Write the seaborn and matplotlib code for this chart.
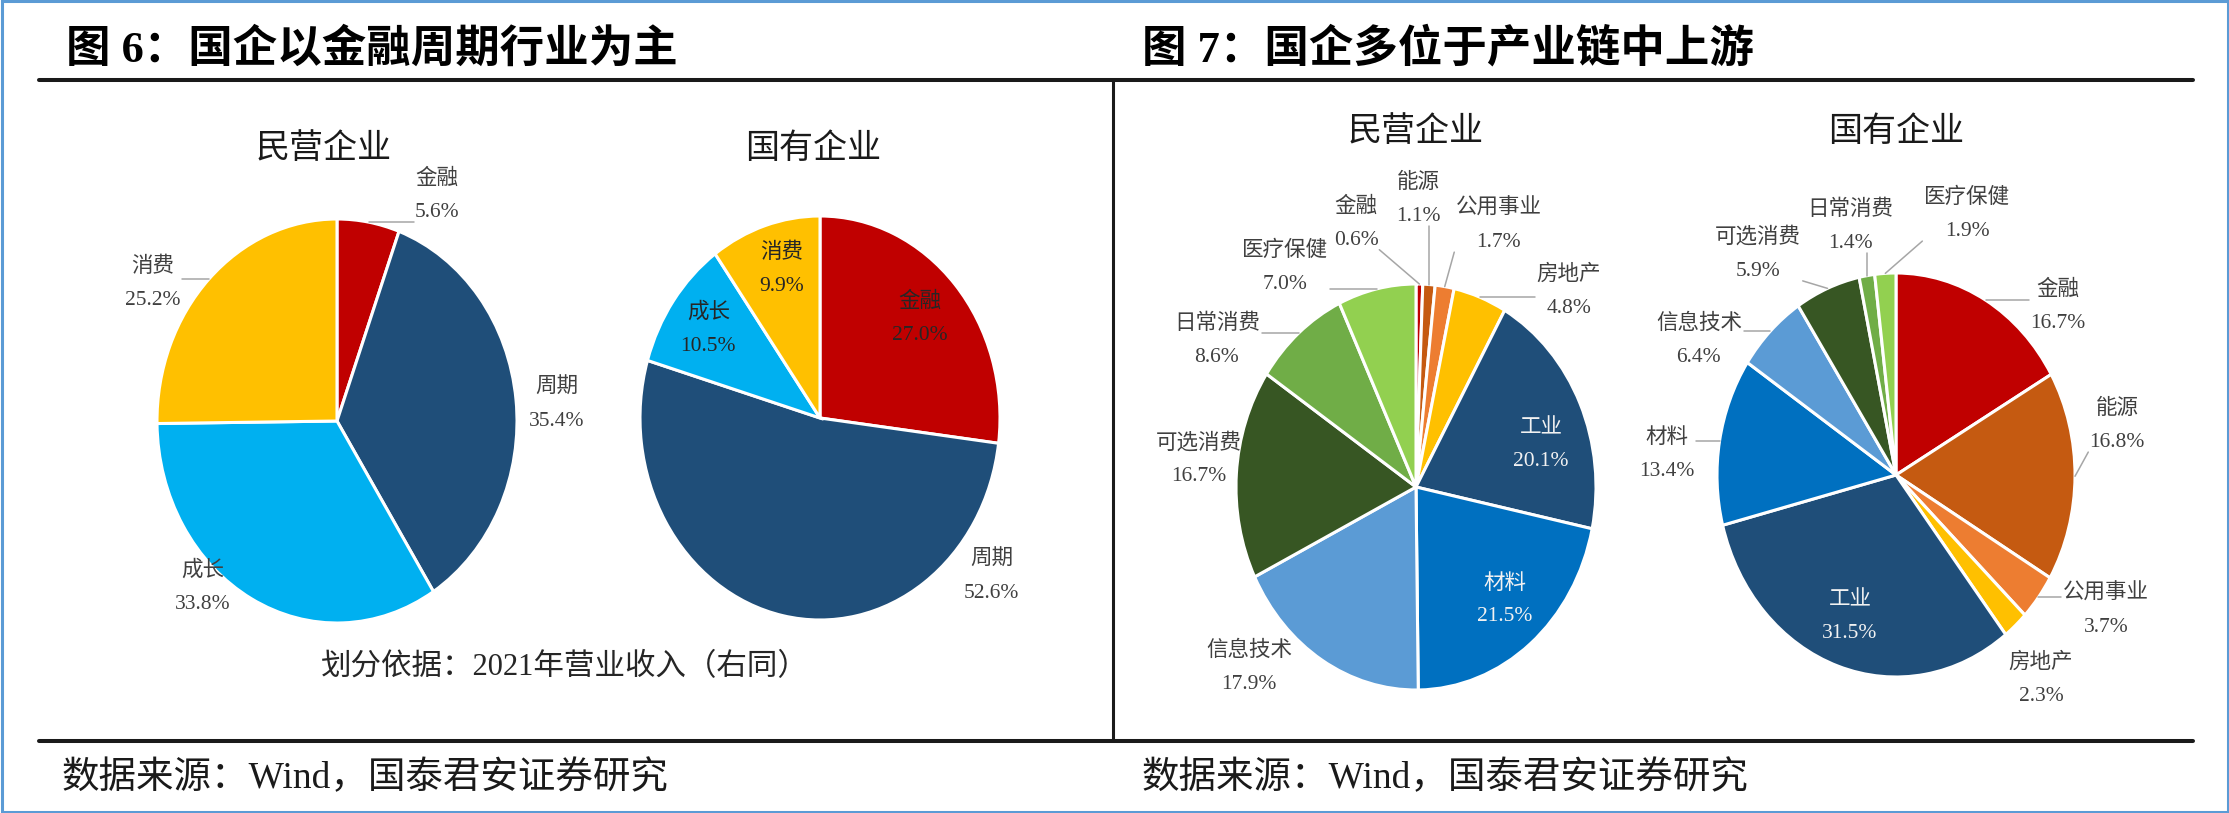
import numpy as np
import matplotlib
matplotlib.use('Agg')
import matplotlib.pyplot as plt
from matplotlib.lines import Line2D
from matplotlib.patches import Rectangle
import seaborn as sns

# data
style_names = ['金融', '周期', '成长', '消费']
style_private = [5.6, 35.4, 33.8, 25.2]
style_state = [27.0, 52.6, 10.5, 9.9]

ind_names = ['金融', '能源', '公用事业', '房地产', '工业', '材料',
             '信息技术', '可选消费', '日常消费', '医疗保健']
ind_private = [0.6, 1.1, 1.7, 4.8, 20.1, 21.5, 17.9, 16.7, 8.6, 7.0]
ind_state = [16.7, 16.8, 3.7, 2.3, 31.5, 13.4, 6.4, 5.9, 1.4, 1.9]

style_colors = sns.color_palette(['#C00000', '#1F4E79', '#00B0F0', '#FFC000'])
ind_colors = sns.color_palette(['#C00000', '#C55A11', '#ED7D31', '#FFC000', '#1F4E79',
                                '#0070C0', '#5B9BD5', '#375623', '#70AD47', '#92D050'])

W, H = 2229, 813
sns.set_style('white')
plt.rcParams['font.family'] = ['Liberation Serif', 'Noto Sans CJK SC']

fig = plt.figure(figsize=(W / 100, H / 100), dpi=100)


def fx(x):
    return x / W


def fy(y):
    return 1 - y / H


# outer frame and rules
fig.add_artist(Rectangle((fx(1.5), 1.5 / H), (W - 3) / W, (H - 3) / H,
                         transform=fig.transFigure, fill=False,
                         edgecolor='#5B9BD5', lw=2.2))
for y in (80, 741):
    fig.add_artist(Line2D([fx(39), fx(2193)], [fy(y), fy(y)], color='#1a1a1a', lw=2.9))
fig.add_artist(Line2D([fx(1113), fx(1113)], [fy(80), fy(741)], color='#1a1a1a', lw=2.2))

# headings
fig.text(fx(66), fy(49), '图 6：国企以金融周期行业为主', fontsize=32, fontweight='bold',
         ha='left', va='center', color='black')
fig.text(fx(1142), fy(49), '图 7：国企多位于产业链中上游', fontsize=32, fontweight='bold',
         ha='left', va='center', color='black')
for x in (62, 1142):
    fig.text(fx(x), fy(778), '数据来源：Wind，国泰君安证券研究', fontsize=27,
             ha='left', va='center', color='#1a1a1a')
fig.text(fx(565), fy(668), '划分依据：2021年营业收入（右同）', fontsize=22,
         ha='center', va='center', color='#262626')

DARK = '#404040'
INNER = '#262626'
LIGHT = '#F2F2F2'

# pie layout: centre / radii in pixels, label spots in pie units
pies = [
    dict(title='民营企业', tx=324, ty=149, cx=337, cy=421, rx=180, ry=202,
         values=style_private, names=style_names, colors=style_colors,
         spots=[(0.556, 1.116), (1.222, 0.082), (-0.744, -0.824), (-1.022, 0.683)],
         tcol=[DARK] * 4, leader=[1, 0, 0, 1]),
    dict(title='国有企业', tx=813, ty=149, cx=820, cy=418, rx=180, ry=202,
         values=style_state, names=style_names, colors=style_colors,
         spots=[(0.557, 0.495), (0.953, -0.785), (-0.620, 0.441), (-0.211, 0.738)],
         tcol=[INNER, DARK, INNER, INNER], leader=[0, 0, 0, 0]),
    dict(title='民营企业', tx=1416, ty=132, cx=1416, cy=487, rx=180, ry=203,
         values=ind_private, names=ind_names, colors=ind_colors,
         spots=[(-0.333, 1.300), (0.011, 1.416), (0.461, 1.288), (0.850, 0.966),
                (0.694, 0.207), (0.494, -0.557), (-0.928, -0.887), (-1.206, 0.135),
                (-1.106, 0.724), (-0.728, 1.081)],
         tcol=[DARK] * 4 + [LIGHT, LIGHT] + [DARK] * 4,
         leader=[1, 1, 1, 1, 0, 0, 0, 0, 1, 1]),
    dict(title='国有企业', tx=1896, ty=132, cx=1896, cy=475, rx=179, ry=202,
         values=ind_state, names=ind_names, colors=ind_colors,
         spots=[(0.905, 0.837), (1.235, 0.245), (1.173, -0.668), (0.810, -1.010),
                (-0.257, -0.703), (-1.279, 0.099), (-1.101, 0.668), (-0.771, 1.094),
                (-0.257, 1.233), (0.397, 1.290)],
         tcol=[DARK] * 4 + [LIGHT] + [DARK] * 5,
         leader=[1, 1, 1, 0, 0, 1, 1, 1, 1, 1]),
]

PAD = 1.6
drawn = []
for p in pies:
    cx, cy, rx, ry = p['cx'], p['cy'], p['rx'], p['ry']
    ax = fig.add_axes([fx(cx - PAD * rx), fy(cy + PAD * ry), 2 * PAD * rx / W, 2 * PAD * ry / H])
    wedges, _ = ax.pie(p['values'], colors=p['colors'], startangle=90, counterclock=False,
                       wedgeprops=dict(edgecolor='white', linewidth=2.2))
    ax.set_aspect('auto')
    ax.set_xlim(-PAD, PAD)
    ax.set_ylim(-PAD, PAD)
    ax.axis('off')
    texts = []
    for name, v, (u, w), c in zip(p['names'], p['values'], p['spots'], p['tcol']):
        t = ax.text(u, w, f'{name}\n{v:.1f}%', ha='center', va='center',
                    fontsize=15.5, color=c, linespacing=2.0)
        texts.append(t)
    fig.text(fx(p['tx']), fy(p['ty']), p['title'], fontsize=24.5, ha='center',
             va='center', color='#1a1a1a')
    drawn.append((ax, wedges, texts, p['leader']))

# leader lines from label box to the wedge rim
fig.canvas.draw()
renderer = fig.canvas.get_renderer()
for ax, wedges, texts, flags in drawn:
    inv = ax.transData.inverted()
    for wdg, t, flag in zip(wedges, texts, flags):
        if not flag:
            continue
        ang = np.deg2rad((wdg.theta1 + wdg.theta2) / 2)
        ex, ey = np.cos(ang), np.sin(ang)
        bb = t.get_window_extent(renderer).expanded(1.04, 1.0).transformed(inv)
        sx = min(max(ex, bb.x0), bb.x1)
        sy = min(max(ey, bb.y0), bb.y1)
        ax.plot([sx, ex], [sy, ey], color='#A6A6A6', lw=1.1, clip_on=False)

fig.savefig('out.png', dpi=100)
